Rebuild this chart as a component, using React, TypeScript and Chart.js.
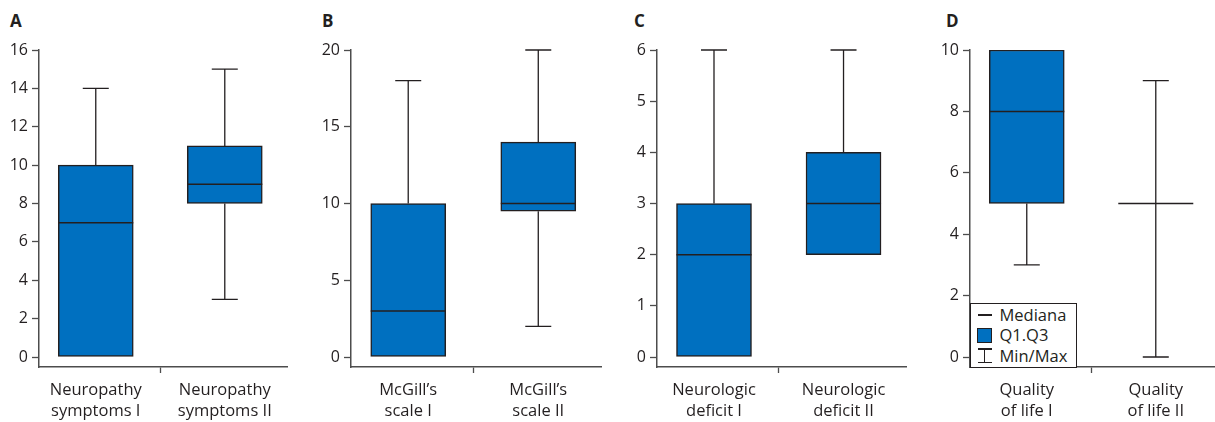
import React, { useEffect, useRef } from "react";
import { Chart, registerables } from "chart.js";

Chart.register(...registerables);

// ---------- data ----------
const panelLetters = ["A", "B", "C", "D"];

const labelsA = [["Neuropathy", "symptoms I"], ["Neuropathy", "symptoms II"]];
const minA = [0, 3];
const q1A = [0, 8];
const medA = [7, 9];
const q3A = [10, 11];
const maxA = [14, 15];
const yTicksA = [0, 2, 4, 6, 8, 10, 12, 14, 16];

const labelsB = [["McGill\u2019s", "scale I"], ["McGill\u2019s", "scale II"]];
const minB = [0, 2];
const q1B = [0, 9.5];
const medB = [3, 10];
const q3B = [10, 14];
const maxB = [18, 20];
const yTicksB = [0, 5, 10, 15, 20];

const labelsC = [["Neurologic", "deficit I"], ["Neurologic", "deficit II"]];
const minC = [0, 2];
const q1C = [0, 2];
const medC = [2, 3];
const q3C = [3, 4];
const maxC = [6, 6];
const yTicksC = [0, 1, 2, 3, 4, 5, 6];

const labelsD = [["Quality", "of life I"], ["Quality", "of life II"]];
const minD = [3, 0];
const q1D = [5, 5];
const medD = [8, 5];
const q3D = [10, 5];
const maxD = [10, 9];
const yTicksD = [0, 2, 4, 6, 8, 10];

const legendLabels = ["Mediana", "Q1.Q3", "Min/Max"];

// ---------- style ----------
const FONT = "'Open Sans', 'Noto Sans', sans-serif";
const BOX = "#0070c0";
const EDGE = "#231f20";
const AXIS = "#4d4d4d";
const TEXT = "#231f20";
const CANVAS_H = 422;
const AREA_TOP = 50;
const AREA_BOTTOM = 367;
const ZERO_GAP = 10;

type PanelProps = {
  left: number;
  width: number;
  axisX: number;
  labels: string[][];
  mins: number[];
  q1s: number[];
  meds: number[];
  q3s: number[];
  maxs: number[];
  yTicks: number[];
};

function Panel(p: PanelProps) {
  const ref = useRef<HTMLCanvasElement | null>(null);
  useEffect(() => {
    if (!ref.current) return;
    const yMax = p.yTicks[p.yTicks.length - 1];
    const span = AREA_BOTTOM - AREA_TOP - ZERO_GAP;
    const yMin = -(yMax * ZERO_GAP) / span;
    const barW = 75;
    const capHalf = 13;

    const whiskers = {
      id: "whiskers",
      beforeDatasetsDraw(chart: any) {
        const { ctx } = chart;
        const x = chart.scales.x;
        const y = chart.scales.y;
        ctx.save();
        ctx.strokeStyle = EDGE;
        ctx.lineWidth = 1.3;
        p.labels.forEach((_, i) => {
          const cx = x.getPixelForValue(i + 1);
          ctx.beginPath();
          if (p.maxs[i] > p.q3s[i]) {
            const yHi = y.getPixelForValue(p.maxs[i]);
            const yQ3 = y.getPixelForValue(p.q3s[i]);
            ctx.moveTo(cx, yQ3);
            ctx.lineTo(cx, yHi);
            ctx.moveTo(cx - capHalf, yHi);
            ctx.lineTo(cx + capHalf, yHi);
          }
          if (p.mins[i] < p.q1s[i]) {
            const yLo = y.getPixelForValue(p.mins[i]);
            const yQ1 = y.getPixelForValue(p.q1s[i]);
            ctx.moveTo(cx, yQ1);
            ctx.lineTo(cx, yLo);
            ctx.moveTo(cx - capHalf, yLo);
            ctx.lineTo(cx + capHalf, yLo);
          }
          ctx.stroke();
        });
        ctx.restore();
      },
      afterDatasetsDraw(chart: any) {
        const { ctx } = chart;
        const x = chart.scales.x;
        const y = chart.scales.y;
        ctx.save();
        ctx.strokeStyle = EDGE;
        ctx.lineWidth = 1.5;
        p.labels.forEach((_, i) => {
          const cx = x.getPixelForValue(i + 1);
          const ym = y.getPixelForValue(p.meds[i]);
          ctx.beginPath();
          ctx.moveTo(cx - barW / 2, ym);
          ctx.lineTo(cx + barW / 2, ym);
          ctx.stroke();
        });
        ctx.restore();
      },
    };

    const chart = new Chart(ref.current, {
      type: "bar",
      data: {
        datasets: [
          {
            data: p.labels.map((_, i) => ({ x: i + 1, y: [p.q1s[i], p.q3s[i]] })) as any,
            backgroundColor: BOX,
            borderColor: EDGE,
            borderWidth: 1.5,
            borderSkipped: false,
            barThickness: barW,
          },
        ],
      },
      options: {
        responsive: false,
        animation: false,
        layout: { padding: { top: AREA_TOP, left: 0, right: 0, bottom: 0 } },
        plugins: { legend: { display: false }, tooltip: { enabled: false } },
        scales: {
          x: {
            type: "linear",
            min: 0.56,
            max: 2.49,
            offset: false,
            afterBuildTicks: (s: any) => {
              s.ticks = p.labels.map((_, i) => ({ value: i + 1 }));
            },
            afterFit: (s: any) => {
              s.height = CANVAS_H - AREA_BOTTOM;
            },
            grid: { drawOnChartArea: false, tickLength: 6, color: AXIS, tickWidth: 1.3 },
            border: { color: AXIS, width: 1.5 },
            ticks: {
              autoSkip: false,
              maxRotation: 0,
              padding: 7,
              color: TEXT,
              font: { family: FONT, size: 16.5, lineHeight: 1.27 },
              callback: (v: any) => p.labels[Number(v) - 1],
            },
          },
          y: {
            type: "linear",
            min: yMin,
            max: yMax,
            afterBuildTicks: (s: any) => {
              s.ticks = p.yTicks.map((v) => ({ value: v }));
            },
            afterFit: (s: any) => {
              s.width = p.axisX - p.left;
            },
            grid: { drawOnChartArea: false, tickLength: 7, color: AXIS, tickWidth: 1.3 },
            border: { color: AXIS, width: 1.5 },
            ticks: {
              padding: 4,
              color: TEXT,
              font: { family: FONT, size: 16 },
            },
          },
        },
      },
      plugins: [whiskers],
    });
    return () => chart.destroy();
  }, []);
  return (
    <canvas
      ref={ref}
      width={p.width}
      height={CANVAS_H}
      style={{ position: "absolute", left: p.left, top: 0, width: p.width, height: CANVAS_H }}
    />
  );
}

function LegendBox() {
  const row: React.CSSProperties = {
    display: "flex",
    alignItems: "center",
    height: 20.5,
    fontFamily: FONT,
    fontSize: 16.5,
    lineHeight: "20px",
    color: TEXT,
    whiteSpace: "nowrap",
  };
  const sym: React.CSSProperties = { width: 15, height: 15, marginRight: 8, position: "relative", flex: "none" };
  return (
    <div
      style={{
        position: "absolute",
        left: 970,
        top: 303,
        width: 107,
        height: 65,
        border: `1.5px solid ${EDGE}`,
        background: "#fff",
        padding: "0.5px 0 0 5.5px",
        boxSizing: "border-box",
      }}
    >
      <div style={row}>
        <div style={sym}>
          <div style={{ position: "absolute", left: 1, right: 0, top: 7, height: 1.5, background: EDGE }} />
        </div>
        <span>{legendLabels[0]}</span>
      </div>
      <div style={row}>
        <div style={sym}>
          <div
            style={{
              position: "absolute",
              left: 0,
              top: 0,
              width: 15,
              height: 15,
              background: BOX,
              border: `1.5px solid ${EDGE}`,
              boxSizing: "border-box",
            }}
          />
        </div>
        <span>{legendLabels[1]}</span>
      </div>
      <div style={row}>
        <div style={sym}>
          <div style={{ position: "absolute", left: 1, width: 14, top: 0, height: 1.3, background: EDGE }} />
          <div style={{ position: "absolute", left: 7.2, width: 1.3, top: 0, height: 15, background: EDGE }} />
          <div style={{ position: "absolute", left: 1, width: 14, top: 13.7, height: 1.3, background: EDGE }} />
        </div>
        <span>{legendLabels[2]}</span>
      </div>
    </div>
  );
}

const letterX = [10, 322, 634, 946];

export default function App() {
  return (
    <div
      style={{
        position: "absolute",
        left: 0,
        top: 0,
        width: 1215,
        height: 422,
        overflow: "hidden",
        background: "#fff",
      }}
    >
      {panelLetters.map((l, i) => (
        <div
          key={l}
          style={{
            position: "absolute",
            left: letterX[i],
            top: 11,
            fontFamily: FONT,
            fontWeight: 700,
            fontSize: 17,
            lineHeight: "20px",
            color: TEXT,
          }}
        >
          {l}
        </div>
      ))}
      <Panel left={0} width={288} axisX={39} labels={labelsA} mins={minA} q1s={q1A} meds={medA} q3s={q3A} maxs={maxA} yTicks={yTicksA} />
      <Panel left={300} width={302} axisX={351} labels={labelsB} mins={minB} q1s={q1B} meds={medB} q3s={q3B} maxs={maxB} yTicks={yTicksB} />
      <Panel left={605} width={302} axisX={657} labels={labelsC} mins={minC} q1s={q1C} meds={medC} q3s={q3C} maxs={maxC} yTicks={yTicksC} />
      <Panel left={915} width={304} axisX={970} labels={labelsD} mins={minD} q1s={q1D} meds={medD} q3s={q3D} maxs={maxD} yTicks={yTicksD} />
      <LegendBox />
    </div>
  );
}
